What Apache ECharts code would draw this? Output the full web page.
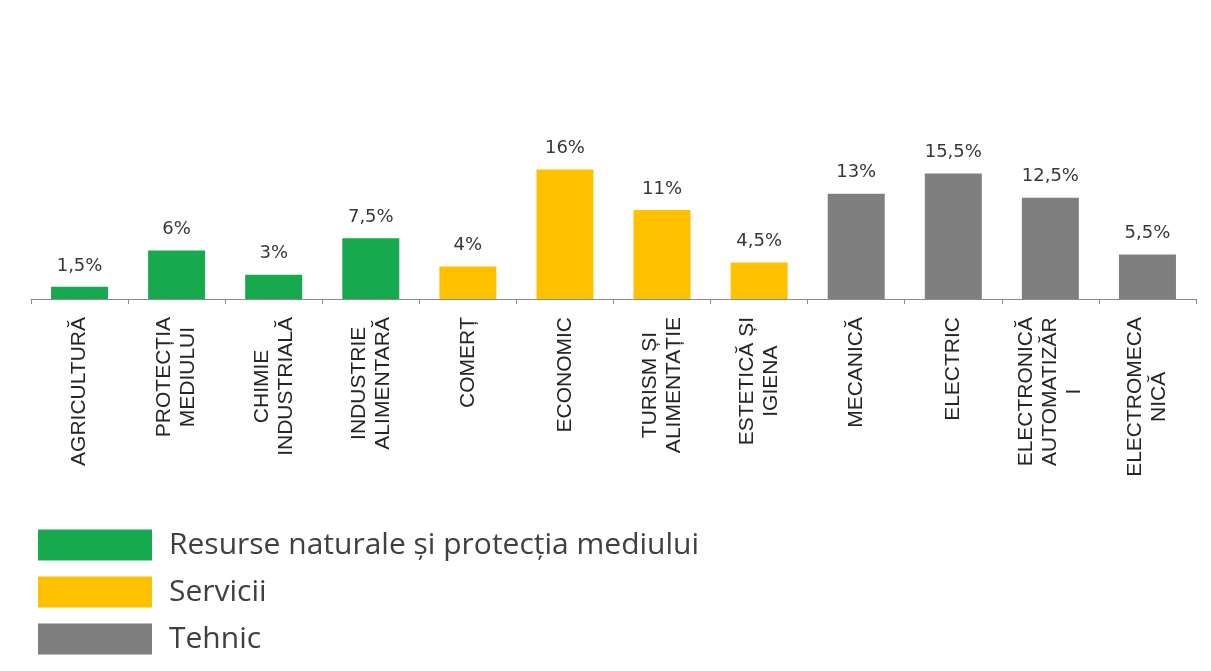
<!DOCTYPE html>
<html>
<head>
<meta charset="utf-8">
<script src="https://cdn.jsdelivr.net/npm/echarts@6/dist/echarts.min.js"></script>
<style>
html,body{margin:0;padding:0;background:#fff;}
#chart{width:1211px;height:671px;}
</style>
</head>
<body>
<div id="chart"></div>
<script>
const categories = [
  'AGRICULTURĂ', 'PROTECȚIA\nMEDIULUI', 'CHIMIE\nINDUSTRIALĂ', 'INDUSTRIE\nALIMENTARĂ',
  'COMERȚ', 'ECONOMIC', 'TURISM ȘI\nALIMENTAȚIE', 'ESTETICĂ ȘI\nIGIENA',
  'MECANICĂ', 'ELECTRIC', 'ELECTRONICĂ\nAUTOMATIZĂR\nI', 'ELECTROMECA\nNICĂ'
];
const values = [1.5, 6, 3, 7.5, 4, 16, 11, 4.5, 13, 15.5, 12.5, 5.5];
const groupOf = [0, 0, 0, 0, 1, 1, 1, 1, 2, 2, 2, 2];
const groupNames = ['Resurse naturale și protecția mediului', 'Servicii', 'Tehnic'];
const groupColors = ['#16a94d', '#ffc000', '#7f7f7f'];

const series = groupNames.map((name, g) => ({
  name: name,
  type: 'bar',
  stack: 'all',
  barWidth: 57,
  itemStyle: { color: groupColors[g] },
  label: {
    show: true,
    position: 'top',
    distance: 12,
    fontFamily: 'DejaVu Sans',
    fontSize: 18,
    color: '#383838',
    formatter: p => String(p.value).replace('.', ',') + '%'
  },
  data: values.map((v, i) => groupOf[i] === g ? v : '-')
}));

const chart = echarts.init(document.getElementById('chart'));
chart.setOption({
  backgroundColor: '#ffffff',
  animation: false,
  grid: { left: 31, right: 15, top: 137, bottom: 372, containLabel: false },
  legend: {
    orient: 'vertical',
    left: 33,
    top: 520,
    itemWidth: 114,
    itemHeight: 31,
    itemGap: 7,
    icon: 'rect',
    textStyle: { fontFamily: 'Open Sans', fontSize: 30, lineHeight: 30, color: '#404040', padding: [10, 0, 0, 12] },
    data: groupNames
  },
  xAxis: {
    type: 'category',
    data: categories,
    axisLine: { lineStyle: { color: '#8c8c8c', width: 1 } },
    axisTick: { show: true, length: 5, lineStyle: { color: '#8c8c8c' } },
    axisLabel: {
      interval: 0,
      rotate: 90,
      margin: 18,
      formatter: v => v.split('\n').map(s => '{a|' + s + '}').join('\n'),
      rich: {
        a: {
          align: 'center',
          fontFamily: 'Liberation Sans',
          fontSize: 21,
          lineHeight: 24,
          color: '#262626'
        }
      }
    }
  },
  yAxis: {
    type: 'value',
    min: 0,
    max: 20,
    show: false,
    splitLine: { show: false }
  },
  series: series
});
</script>
</body>
</html>
